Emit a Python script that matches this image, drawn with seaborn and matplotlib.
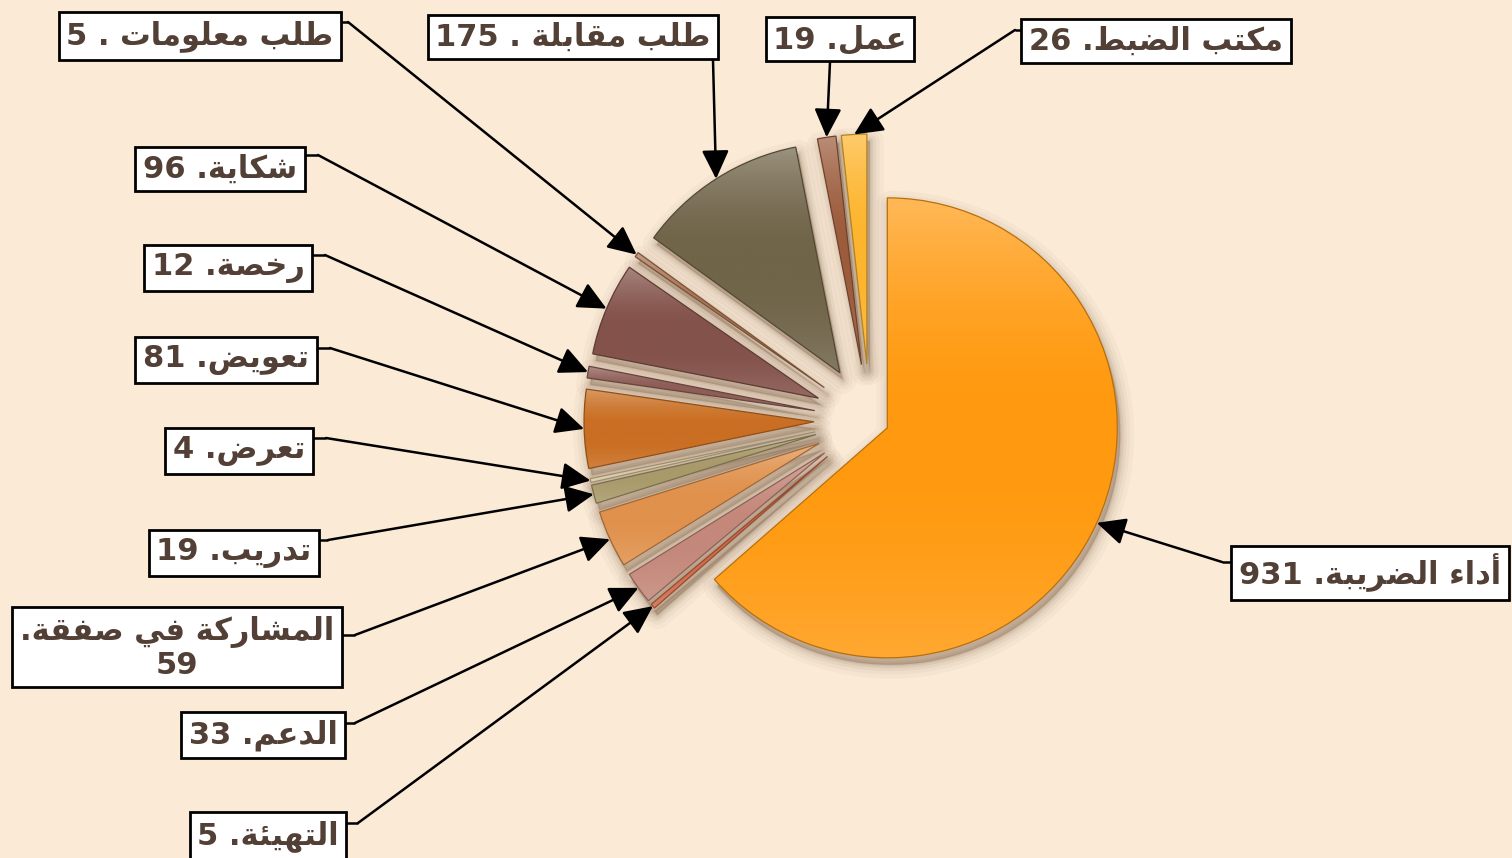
import numpy as np
import matplotlib
matplotlib.use("Agg")
import matplotlib.pyplot as plt
import seaborn as sns
from matplotlib.colors import to_rgb
from matplotlib.patches import Wedge

# ---------------- data ----------------
categories = ["أداء الضريبة", "التهيئة", "الدعم", "المشاركة في صفقة", "تدريب", "تعرض",
              "تعويض", "رخصة", "شكاية", "طلب معلومات", "طلب مقابلة", "عمل", "مكتب الضبط"]
values = [931, 5, 33, 59, 19, 4, 81, 12, 96, 5, 175, 19, 26]
colors = ["#FF9A10", "#D06A48", "#C4887A", "#E0914C", "#A89A6A", "#D9C7A0", "#C96E22",
          "#8E5E56", "#83524A", "#A8714E", "#706449", "#9C5C3C", "#FDB52E"]

# ---------------- layout (pixel coords, y from top) ----------------
W, H = 1512, 858
CX, CY, R = 870, 420, 230
explode = [19] + [56] * 12          # offsets in pixels (matplotlib uses absolute units)
box_centers = [(1370, 573), (268, 836), (263, 735), (177, 648), (234, 553), (239, 451),
               (226, 360), (228, 268), (220, 169), (200, 36), (573, 37), (840, 39), (1156, 41)]
leaders = [((1370, 562), (1222, 562)), ((268, 823), (358, 823)), ((263, 723), (355, 723)),
           ((177, 635), (355, 635)), ((234, 540), (328, 540)), ((239, 438), (326, 438)),
           ((226, 348), (330, 348)), ((228, 255), (325, 255)), ((220, 155), (318, 155)),
           ((200, 22), (348, 22)), ((713, 37), (713, 60)), ((830, 39), (830, 62)),
           ((1156, 30), (1015, 30))]
seps = [" .", " .", " .", ".", " .", " .", " .", " .", " .", " . ", " . ", " .", " ."]

BG = "#FBEAD6"
TXT = "#523F35"
SH = "#5A3C20"

# ---------------- minimal Arabic shaping ----------------
_AR = {'ء': (0xFE80, 0), 'آ': (0xFE81, 1), 'أ': (0xFE83, 1), 'ؤ': (0xFE85, 1), 'إ': (0xFE87, 1),
       'ئ': (0xFE89, 2), 'ا': (0xFE8D, 1), 'ب': (0xFE8F, 2), 'ة': (0xFE93, 1), 'ت': (0xFE95, 2),
       'ث': (0xFE99, 2), 'ج': (0xFE9D, 2), 'ح': (0xFEA1, 2), 'خ': (0xFEA5, 2), 'د': (0xFEA9, 1),
       'ذ': (0xFEAB, 1), 'ر': (0xFEAD, 1), 'ز': (0xFEAF, 1), 'س': (0xFEB1, 2), 'ش': (0xFEB5, 2),
       'ص': (0xFEB9, 2), 'ض': (0xFEBD, 2), 'ط': (0xFEC1, 2), 'ظ': (0xFEC5, 2), 'ع': (0xFEC9, 2),
       'غ': (0xFECD, 2), 'ف': (0xFED1, 2), 'ق': (0xFED5, 2), 'ك': (0xFED9, 2), 'ل': (0xFEDD, 2),
       'م': (0xFEE1, 2), 'ن': (0xFEE5, 2), 'ه': (0xFEE9, 2), 'و': (0xFEED, 1), 'ى': (0xFEEF, 1),
       'ي': (0xFEF1, 2)}


def shape(s):
    out = []
    for i, ch in enumerate(s):
        if ch not in _AR:
            out.append(ch)
            continue
        base, jt = _AR[ch]
        prev = s[i - 1] if i > 0 else ""
        nxt = s[i + 1] if i < len(s) - 1 else ""
        jp = jt > 0 and prev in _AR and _AR[prev][1] == 2
        jn = jt == 2 and nxt in _AR and _AR[nxt][1] > 0
        if jp and jn:
            f = base + 3
        elif jp:
            f = base + 1
        elif jn:
            f = base + 2
        else:
            f = base
        out.append(chr(f))
    return "".join(out)


def rtl(s):
    return shape(s)[::-1]


def visual_label(name, value, sep):
    if sep == ".":  # wrapped label
        return "." + rtl(name) + "\n" + str(value)
    return f"{value}{sep}{rtl(name)}"


# ---------------- drawing ----------------
sns.set_style("white")
plt.rcParams["font.family"] = ["DejaVu Sans"]

fig = plt.figure(figsize=(W / 100, H / 100), dpi=100, facecolor=BG)
ax = fig.add_axes([0, 0, 1, 1])
ax.set_facecolor(BG)


def Y(y):
    return H - y


wedges, _ = ax.pie(values, colors=colors, explode=explode, startangle=90, counterclock=False,
                   radius=R, center=(CX, Y(CY)), wedgeprops=dict(linewidth=0.9))


def grad_img(base, n=256):
    b = np.array(to_rgb(base))
    t = np.linspace(0, 1, n)[:, None]
    light = 0.30 * np.clip((t - 0.55) / 0.45, 0, 1) ** 1.6 + 0.14 * np.clip((0.4 - t) / 0.4, 0, 1) ** 1.6
    img = b + (1 - b) * light
    return np.repeat(img[:, None, :], 2, axis=1)


targets = []
for w, c in zip(wedges, colors):
    cx, cy = w.center
    for lw, a in [(20, 0.03), (14, 0.04), (9, 0.055), (5, 0.07), (2, 0.09)]:
        ax.add_patch(Wedge((cx + 3, cy - 7), w.r, w.theta1, w.theta2, fc=SH, ec=SH,
                           lw=lw, alpha=a, zorder=1, joinstyle="round"))
    ext = w.get_path().get_extents()
    im = ax.imshow(grad_img(c), extent=[ext.x0, ext.x1, ext.y0, ext.y1], origin="lower",
                   aspect="auto", interpolation="bilinear", zorder=3)
    im.set_clip_path(w)
    b = np.array(to_rgb(c))
    w.set_facecolor("none")
    w.set_edgecolor(tuple(b * 0.72))
    w.set_zorder(4)
    mid = np.deg2rad((w.theta1 + w.theta2) / 2)
    targets.append((cx + w.r * np.cos(mid), cy + w.r * np.sin(mid)))

for i, (name, val) in enumerate(zip(categories, values)):
    bx, by = box_centers[i]
    (sx, sy), (kx, ky) = leaders[i]
    ax.plot([sx, kx], [Y(sy), Y(ky)], color="black", lw=1.8, zorder=6, solid_capstyle="butt")
    ax.annotate("", xy=targets[i], xytext=(kx, Y(ky)),
                arrowprops=dict(arrowstyle="-|>,head_length=0.8,head_width=0.38", color="black",
                                lw=1.8, shrinkA=0, shrinkB=0, mutation_scale=22), zorder=6)
    ax.text(bx, Y(by), visual_label(name, val, seps[i]), ha="center", va="center",
            fontsize=22, fontweight="bold", color=TXT, linespacing=1.1, zorder=10,
            bbox=dict(boxstyle="square,pad=0.25", fc="white", ec="black", lw=2))

ax.set_xlim(0, W)
ax.set_ylim(0, H)
ax.set_aspect("equal")
ax.axis("off")
fig.savefig("out.png", dpi=100, facecolor=BG)
